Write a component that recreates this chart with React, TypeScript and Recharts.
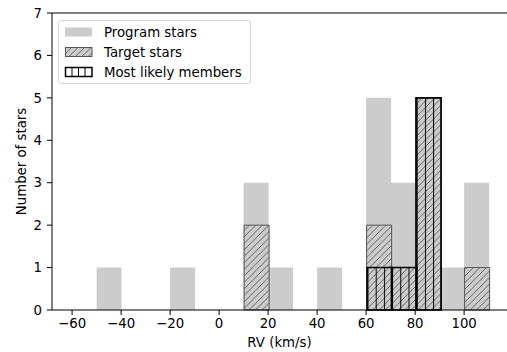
import React from 'react';
import { BarChart, Bar, XAxis, YAxis, ReferenceLine } from 'recharts';

// histogram bins of 10 km/s, keyed by bin centre
const binCenters = [-65, -55, -45, -35, -25, -15, -5, 5, 15, 25, 35, 45, 55, 65, 75, 85, 95, 105];
const programStars = [0, 0, 1, 0, 0, 1, 0, 0, 3, 1, 0, 1, 0, 5, 3, 5, 1, 3];
const targetStars = [0, 0, 0, 0, 0, 0, 0, 0, 2, 0, 0, 0, 0, 2, 1, 5, 0, 1];
const likelyMembers = [0, 0, 0, 0, 0, 0, 0, 0, 0, 0, 0, 0, 0, 1, 1, 5, 0, 0];

const xTicks = [-60, -40, -20, 0, 20, 40, 60, 80, 100];
const yTicks = [0, 1, 2, 3, 4, 5, 6, 7];
const X_DOMAIN: [number, number] = [-68.2, 117.5];

const FONT = 'DejaVu Sans, sans-serif';
const GREY = '#cccccc';

const data = binCenters.map((bin, i) => ({
  bin,
  program: programStars[i],
  target: targetStars[i],
  members: likelyMembers[i],
}));

const formatTick = (v: number) => (v < 0 ? `\u2212${Math.abs(v)}` : `${v}`);

const tickStyle = { fill: '#000', fontSize: 13.3, fontFamily: FONT };

const HatchDefs = () => (
  <defs>
    <pattern id="diagHatch" patternUnits="userSpaceOnUse" width={6.5} height={6.5}>
      <rect width={6.5} height={6.5} fill={GREY} />
      <path d="M-1,1 l2,-2 M0,6.5 l6.5,-6.5 M5.5,7.5 l2,-2" stroke="#555" strokeWidth={0.9} />
    </pattern>
    <pattern id="vertHatch" patternUnits="userSpaceOnUse" x={375.7} y={0} width={8.2} height={10}>
      <line x1={0.5} y1={0} x2={0.5} y2={10} stroke="#000" strokeWidth={1} />
    </pattern>
    <pattern id="diagHatchLegend" patternUnits="userSpaceOnUse" width={6.5} height={6.5}>
      <rect width={6.5} height={6.5} fill={GREY} />
      <path d="M-1,1 l2,-2 M0,6.5 l6.5,-6.5 M5.5,7.5 l2,-2" stroke="#555" strokeWidth={0.9} />
    </pattern>
  </defs>
);

const LegendBox = () => {
  const rows = [
    { label: 'Program stars', kind: 'program' },
    { label: 'Target stars', kind: 'target' },
    { label: 'Most likely members', kind: 'members' },
  ];
  return (
    <div
      style={{
        position: 'absolute',
        left: 58,
        top: 20,
        width: 191,
        height: 62,
        border: '1px solid #d6d6d6',
        borderRadius: 3,
        background: 'rgba(255,255,255,0.8)',
        fontFamily: FONT,
        fontSize: 13.3,
      }}
    >
      <svg width={191} height={62} style={{ position: 'absolute', left: 0, top: 0 }}>
        {rows.map((r, i) => {
          const cy = 11 + i * 20;
          return (
            <g key={r.label}>
              {r.kind === 'program' && <rect x={6} y={cy - 4.5} width={27} height={9} fill={GREY} />}
              {r.kind === 'target' && (
                <rect x={6.5} y={cy - 4.5} width={26.5} height={9} fill="url(#diagHatchLegend)" stroke="#555" strokeWidth={1} />
              )}
              {r.kind === 'members' && (
                <g>
                  <rect x={6.5} y={cy - 4.5} width={26.5} height={9} fill="#fff" stroke="#000" strokeWidth={1.5} />
                  {[13, 19.5, 26].map((lx) => (
                    <line key={lx} x1={lx} y1={cy - 4.5} x2={lx} y2={cy + 4.5} stroke="#000" strokeWidth={1} />
                  ))}
                </g>
              )}
              <text x={45} y={cy + 5} fontSize={13.3} fontFamily={FONT} fill="#000">
                {r.label}
              </text>
            </g>
          );
        })}
      </svg>
    </div>
  );
};

export default function App() {
  return (
    <div style={{ position: 'absolute', left: 0, top: 0, width: 507, height: 352, background: '#fff' }}>
      <BarChart
        width={507}
        height={352}
        data={data}
        margin={{ top: 13, right: 0, bottom: 0, left: 0 }}
        barCategoryGap={0}
        barGap="-100%"
      >
        <HatchDefs />
        <XAxis
          dataKey="bin"
          type="number"
          domain={X_DOMAIN}
          allowDataOverflow
          ticks={xTicks}
          tickFormatter={formatTick}
          height={42}
          tick={tickStyle}
          tickSize={5}
          tickMargin={4}
          axisLine={{ stroke: '#000' }}
          tickLine={{ stroke: '#000' }}
          label={{
            content: ({ viewBox }: any) => (
              <text
                x={viewBox.x + viewBox.width / 2}
                y={viewBox.y + 37}
                textAnchor="middle"
                fontSize={13.3}
                fontFamily={FONT}
                fill="#000"
              >
                RV (km/s)
              </text>
            ),
          }}
        />
        <YAxis
          type="number"
          domain={[0, 7]}
          ticks={yTicks}
          width={52}
          tick={tickStyle}
          tickSize={5}
          tickMargin={5}
          axisLine={{ stroke: '#000' }}
          tickLine={{ stroke: '#000' }}
          label={{
            content: ({ viewBox }: any) => {
              const cx = 21;
              const cy = viewBox.y + viewBox.height / 2;
              return (
                <text
                  x={cx}
                  y={cy}
                  transform={`rotate(-90 ${cx} ${cy})`}
                  textAnchor="middle"
                  dominantBaseline="central"
                  fontSize={13.3}
                  fontFamily={FONT}
                  fill="#000"
                >
                  Number of stars
                </text>
              );
            },
          }}
        />
        <ReferenceLine y={7} stroke="#000" strokeWidth={1} />
        <Bar dataKey="program" fill={GREY} isAnimationActive={false} />
        <Bar dataKey="target" fill="url(#diagHatch)" stroke="#555" strokeWidth={1} isAnimationActive={false} />
        <Bar dataKey="members" fill="url(#vertHatch)" stroke="#000" strokeWidth={1.6} isAnimationActive={false} />
      </BarChart>
      <LegendBox />
    </div>
  );
}
